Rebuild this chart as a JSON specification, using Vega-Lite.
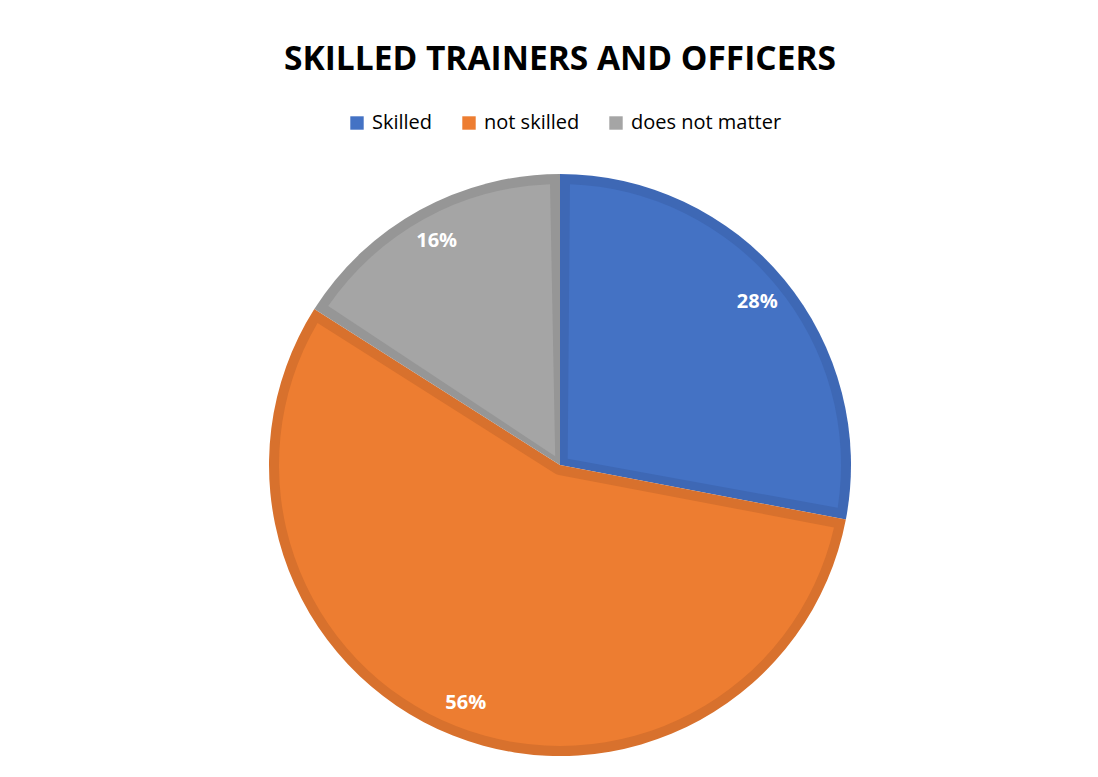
{
  "$schema": "https://vega.github.io/schema/vega-lite/v6.json",
  "width": 1076,
  "height": 624,
  "autosize": {"type": "none"},
  "padding": {"top": 153, "left": 22, "right": 0, "bottom": 0},
  "background": "white",
  "title": {"text": "SKILLED TRAINERS AND OFFICERS", "font": "Open Sans", "fontSize": 33.5, "fontWeight": "bold", "color": "#000000", "anchor": "middle", "offset": 36},
  "data": {"values": [
    {"category": "Skilled", "value": 0.28, "order": 1},
    {"category": "not skilled", "value": 0.56, "order": 2},
    {"category": "does not matter", "value": 0.16, "order": 3}
  ]},
  "encoding": {
    "theta": {"field": "value", "type": "quantitative", "stack": true},
    "order": {"field": "order", "type": "quantitative"}
  },
  "layer": [
    {
      "mark": {"type": "arc", "outerRadius": 291},
      "encoding": {
        "color": {"field": "category", "type": "nominal", "legend": null,
          "scale": {"domain": ["Skilled", "not skilled", "does not matter"], "range": ["#3E68B5", "#D8712D", "#969696"]}}
      }
    },
    {
      "mark": {"type": "arc", "outerRadius": 281, "innerRadius": 10, "padAngle": 0.071},
      "encoding": {
        "color": {"field": "category", "type": "nominal",
          "scale": {"domain": ["Skilled", "not skilled", "does not matter"], "range": ["#4472C4", "#ED7D31", "#A5A5A5"]},
          "legend": {"orient": "none", "legendX": 325, "legendY": -40, "direction": "horizontal", "title": null, "symbolType": "square", "symbolSize": 180, "symbolStrokeWidth": 0, "labelFont": "Open Sans", "labelFontSize": 20, "labelColor": "#000000", "columnPadding": 26, "labelOffset": 5}}
      }
    },
    {
      "mark": {"type": "text", "radius": 256, "font": "Open Sans", "fontSize": 20, "fontWeight": "bold", "color": "white"},
      "encoding": {
        "text": {"field": "value", "type": "quantitative", "format": ".0%"}
      }
    }
  ],
  "resolve": {"scale": {"color": "independent"}, "legend": {"color": "independent"}}
}
